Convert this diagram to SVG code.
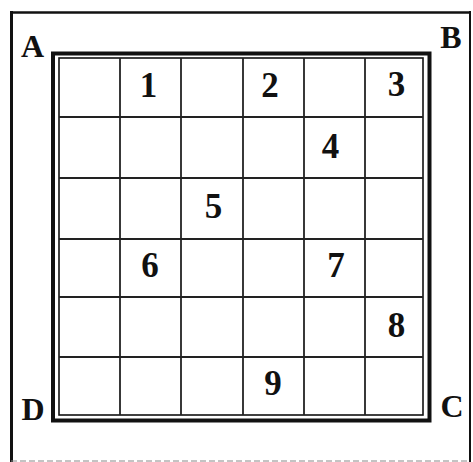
<svg xmlns="http://www.w3.org/2000/svg" width="473" height="462" viewBox="0 0 473 462">
<style>
.frame{stroke:#111;fill:none}
.grid{stroke:#222;stroke-width:1.8;fill:none}
.lbl{font-family:"Liberation Serif","Times New Roman",serif;font-weight:bold;font-size:32px;fill:#111;text-anchor:middle}
.num{font-family:"Liberation Serif","Times New Roman",serif;font-weight:bold;font-size:35px;fill:#111;text-anchor:middle}
</style>
<rect width="473" height="462" fill="#fff"/>
<g id="outer-frame">
<line class="frame" x1="11.5" y1="11" x2="11.5" y2="462" stroke-width="3"/>
<line class="frame" x1="10" y1="12.5" x2="471" y2="12.5" stroke-width="2.5"/>
<line class="frame" x1="470" y1="11" x2="470" y2="462" stroke-width="2"/>
<line x1="11" y1="461" x2="470" y2="461" stroke="#888" stroke-width="1" stroke-dasharray="6 3"/>
</g>
<g id="board">
<rect class="frame" x="53" y="53.5" width="376.5" height="367" stroke-width="4"/>
<rect class="frame" x="59" y="58" width="364" height="357" stroke-width="1.6"/>
</g>
<g id="grid-lines">
<line class="grid" x1="120" y1="58" x2="120" y2="415"/>
<line class="grid" x1="181" y1="58" x2="181" y2="415"/>
<line class="grid" x1="243" y1="58" x2="243" y2="415"/>
<line class="grid" x1="304" y1="58" x2="304" y2="415"/>
<line class="grid" x1="365" y1="58" x2="365" y2="415"/>
<line class="grid" x1="59" y1="117" x2="423" y2="117"/>
<line class="grid" x1="59" y1="178" x2="423" y2="178"/>
<line class="grid" x1="59" y1="239" x2="423" y2="239"/>
<line class="grid" x1="59" y1="297" x2="423" y2="297"/>
<line class="grid" x1="59" y1="357" x2="423" y2="357"/>
</g>
<g id="corner-labels">
<text class="lbl" x="32.5" y="57">A</text>
<text class="lbl" x="451" y="48">B</text>
<text class="lbl" x="452" y="417">C</text>
<text class="lbl" x="33" y="420">D</text>
</g>
<g id="numbers">
<text class="num" x="148.5" y="97">1</text>
<text class="num" x="270" y="97">2</text>
<text class="num" x="396.5" y="96">3</text>
<text class="num" x="330.5" y="158">4</text>
<text class="num" x="213.5" y="218">5</text>
<text class="num" x="150" y="277">6</text>
<text class="num" x="336" y="277">7</text>
<text class="num" x="396.5" y="337">8</text>
<text class="num" x="273" y="395">9</text>
</g>
</svg>
